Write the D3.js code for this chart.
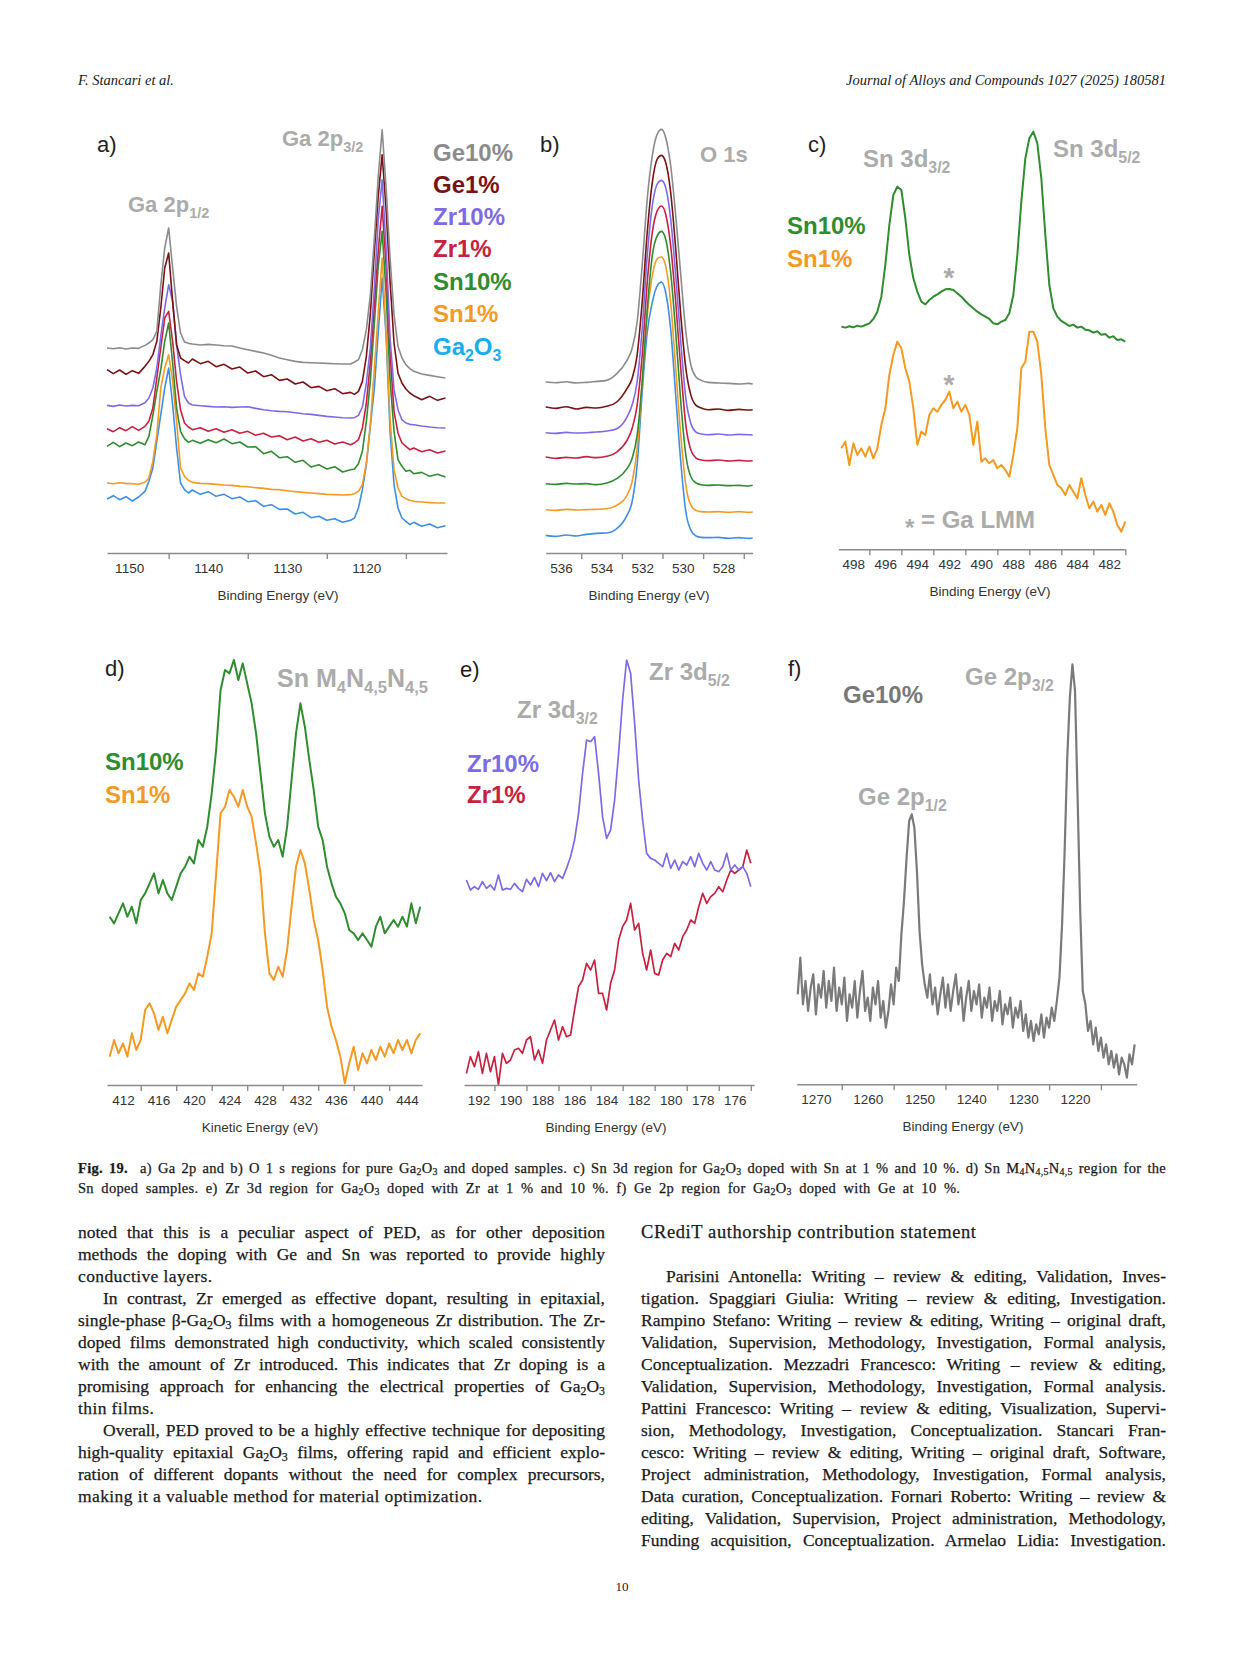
<!DOCTYPE html>
<html>
<head>
<meta charset="utf-8">
<script src="https://cdn.jsdelivr.net/npm/d3@7"></script>
<style>
  body { margin: 0; background: #fff; }
  #page { position: relative; width: 1241px; height: 1654px; overflow: hidden; background: #fff; }
  #page svg { position: absolute; left: 0; top: 0; }
  .ln { position: absolute; white-space: normal; color: #1a1a1a; font-family: "Liberation Serif", "Times New Roman", serif; -webkit-text-stroke: 0.25px #1a1a1a; }
  .ln sub { font-size: 68%; vertical-align: -0.22em; line-height: 0; }
</style>
</head>
<body>
<div id="page"></div>
<script>
// ---- data (intensities in arbitrary units) ----

// a) Ga 2p
const aEnergy = [1152.8, 1152, 1151.2, 1150.4, 1149.6, 1148.8, 1148, 1147.5, 1147, 1146.5, 1146, 1145.5, 1145, 1144.5, 1144, 1143.5, 1143, 1142.5, 1142,
  1141, 1140, 1139, 1138, 1137, 1136, 1135, 1134, 1133, 1132, 1131, 1130, 1129, 1128, 1127, 1126, 1125, 1124, 1123, 1122,
  1121.5, 1121, 1120.5, 1120, 1119.5, 1119, 1118.5, 1118, 1117.5, 1117, 1116.5, 1116, 1115.5, 1115, 1114.5, 1114, 1113, 1112, 1111, 1110];
const aGe10 = [61.5, 61.3, 61.6, 61.2, 61.5, 61.4, 62.3, 63.0, 64.0, 66.5, 80.3, 91.5, 97.5, 85.5, 74, 66, 63.3, 62.9, 62.7,
  62.4, 62.6, 62.4, 62.2, 62.1, 61.5, 61.0, 60.5, 60.0, 59.3, 58.5, 58.0, 57.5, 57.2, 57.1, 57.0, 56.9, 56.8, 56.7, 56.7,
  57.3, 58.0, 61.0, 67.0, 77.2, 94.0, 112.8, 127.0, 109.5, 88.5, 71.5, 62.0, 58.5, 56.5, 55.3, 54.5, 53.7, 53.3, 52.9, 52.5];
const aGe1 = [55.0, 53.8, 54.9, 53.6, 54.7, 53.9, 56.0, 57.5, 59.5, 63.5, 73.5, 85.5, 90, 75.5, 62.5, 58.5, 57.7, 57.0, 58.2,
  56.8, 57.5, 55.9, 56.6, 55.2, 55.8, 54.0, 54.6, 52.9, 53.5, 51.8, 52.2, 50.7, 51.3, 49.6, 50.0, 48.7, 49.3, 47.8, 48.2,
  47.6, 48.5, 51.5, 59.0, 71.5, 90.0, 107.0, 119.5, 103.0, 81.5, 63.0, 54.0, 51.0, 49.2, 48.0, 47.2, 46.0, 47.0, 45.8, 46.5];
const aZr10 = [44.3, 44.0, 44.4, 44.1, 44.3, 44.2, 45.1, 46.5, 49.5, 55.5, 65, 73.5, 80.5, 75.5, 62.5, 53.5, 47, 45, 44.4,
  44.2, 44.0, 43.8, 43.9, 43.7, 43.8, 43.9, 43.4, 43.0, 42.7, 42.5, 42.4, 42.1, 41.8, 41.6, 41.3, 41.0, 40.8, 40.6, 40.5,
  40.6, 41.3, 43.8, 51.0, 61.5, 79.0, 100.0, 112.0, 91.5, 64.5, 49.0, 43.0, 40.0, 39.0, 38.6, 38.5, 38.1, 37.8, 37.6, 37.5];
const aZr1 = [37.3, 36.4, 37.6, 36.7, 37.9, 36.8, 38.0, 39.5, 43.5, 52.5, 61.5, 70.5, 72.5, 63.5, 51.5, 43, 39, 37.8, 37.0,
  37.6, 36.5, 37.3, 36.2, 37.0, 35.9, 36.5, 35.3, 35.9, 34.8, 35.2, 34.0, 34.8, 33.6, 34.3, 33.2, 33.8, 32.7, 33.3, 32.5,
  33.0, 34.0, 37.5, 45.0, 57.0, 74.0, 90.5, 104.0, 86.0, 60.0, 42.5, 36.0, 33.0, 32.0, 31.0, 31.5, 30.4, 31.0, 30.0, 30.6];
const aSn10 = [32.0, 33.2, 31.9, 33.0, 32.2, 33.3, 32.5, 35.0, 41.3, 48.5, 55, 63.5, 69, 57, 43.5, 36.5, 34.3, 33.2, 33.8,
  32.9, 34.0, 33.1, 34.2, 32.8, 33.3, 31.8, 31.9, 29.8, 30.5, 28.6, 28.9, 27.2, 27.8, 25.8, 26.5, 25.2, 25.9, 24.3, 25.0,
  25.2, 26.8, 30.5, 39.5, 51.5, 68.5, 86.0, 96.5, 78.0, 52.0, 36.5, 28.0, 26.0, 24.5, 24.8, 23.8, 24.2, 23.0, 23.6, 22.8];
const aSn1 = [21.0, 20.8, 21.1, 20.9, 20.8, 20.6, 21.2, 22.5, 27.5, 35.5, 49.5, 55.5, 59.5, 51.5, 39.5, 25.5, 23, 21.8, 21.2,
  20.9, 20.8, 20.6, 20.4, 20.3, 20.0, 19.9, 19.6, 19.4, 19.1, 19.0, 18.7, 18.4, 18.2, 18.0, 17.8, 17.6, 17.5, 17.4, 17.5,
  17.8, 18.5, 20.5, 27.0, 38.5, 55.0, 72.0, 88.5, 66.0, 40.0, 25.0, 19.5, 17.0, 16.3, 15.8, 15.5, 15.3, 15.1, 15.0, 15.0];
const aGa2O3 = [16.2, 17.2, 16.0, 16.9, 15.6, 16.8, 18.5, 21.5, 25.5, 33.5, 41.5, 49.5, 55.5, 44.5, 31.5, 21, 19, 18.0, 18.9,
  17.6, 18.4, 17.0, 17.6, 16.3, 16.8, 15.4, 15.7, 14.0, 14.5, 13.1, 13.2, 11.7, 12.2, 10.6, 11.0, 9.8, 10.3, 9.2, 9.8,
  10.5, 13.5, 19.0, 26.5, 38.0, 49.0, 66.0, 82.5, 65.0, 36.5, 20.5, 13.5, 10.5, 9.5, 8.5, 9.2, 8.0, 8.7, 7.6, 8.2];
const aTicks = [1150, 1140, 1130, 1120];
const aMinor = [1145, 1135, 1125, 1115];

// b) O 1s
const bEnergy = [536.75, 536.25, 535.75, 535.25, 534.75, 534.25, 533.75, 533.25, 532.75, 532.5, 532.25, 532, 531.75, 531.5, 531.25,
  531.05, 530.85, 530.6, 530.35, 530.1, 529.85, 529.6, 529.35, 529.1, 528.75, 528.25, 527.75, 527.25, 526.75, 526.56];
const bGe10 = [51.3, 51.1, 51.4, 51.0, 51.2, 51.5, 51.8, 53.8, 57.8, 61.3, 69.3, 86.3, 106.3, 119.3, 125.8, 127.1, 124.8, 116.3, 101.3, 83.3, 66.3, 56.3, 52.8, 51.8, 51.2, 51.0, 50.9, 50.7, 50.9, 50.7];
const bGe1 = [43.8, 43.4, 43.9, 43.2, 43.7, 43.5, 44.0, 45.3, 49.3, 52.3, 59.3, 75.3, 96.3, 111.3, 118.3, 119.3, 117.3, 108.3, 91.3, 71.3, 55.3, 47.3, 44.3, 43.5, 43.0, 43.2, 42.8, 43.1, 42.9, 43.0];
const bZr10 = [36.1, 35.9, 36.2, 36.0, 36.1, 36.3, 36.6, 37.3, 40.8, 44.3, 51.3, 67.3, 89.3, 104.3, 110.8, 111.8, 109.8, 100.3, 83.3, 63.3, 46.3, 38.8, 36.3, 35.7, 35.5, 35.7, 35.4, 35.6, 35.5, 35.4];
const bZr1 = [28.8, 28.4, 28.7, 28.5, 28.9, 28.6, 29.0, 30.3, 33.8, 37.3, 44.3, 59.3, 81.3, 96.3, 102.8, 104.1, 101.8, 92.3, 75.3, 55.3, 38.3, 30.8, 28.5, 27.9, 27.7, 27.9, 27.6, 27.8, 27.6, 27.7];
const bSn10 = [20.8, 20.6, 20.9, 20.7, 20.8, 20.5, 21.0, 22.3, 25.3, 28.3, 35.3, 51.3, 73.3, 89.3, 95.3, 96.5, 94.3, 84.3, 66.3, 45.3, 29.3, 22.8, 21.0, 20.5, 20.3, 20.4, 20.2, 20.3, 20.1, 20.3];
const bSn1 = [13.0, 12.8, 13.1, 12.9, 13.0, 13.1, 13.3, 14.3, 17.3, 21.3, 31.3, 51.3, 71.3, 83.3, 88.3, 88.8, 86.3, 75.3, 55.3, 35.3, 20.3, 14.3, 12.8, 12.4, 12.3, 12.4, 12.2, 12.4, 12.2, 12.3];
const bGa2O3 = [5.3, 5.0, 5.4, 5.1, 5.6, 5.9, 6.0, 7.3, 11.3, 15.3, 26.3, 48.3, 66.3, 75.3, 80.3, 81.3, 78.3, 67.3, 47.3, 27.3, 12.3, 6.8, 5.1, 4.7, 4.6, 4.7, 4.4, 4.6, 4.4, 4.5];
const bTicks = [536, 534, 532, 530, 528];
const bMinor = [535, 533, 531, 529, 527];

// c) Sn 3d, sampled every 0.25 eV from 498.75 eV down
const cStart = 498.75, cStep = -0.25;
const cSn10 = [66.8, 66.5, 66.9, 66.6, 67.1, 66.8, 67.3, 67.8, 69.1, 71.3, 75.8, 85.3, 97.3, 106.3, 108.8, 107.8, 99.3, 88.3, 81.3, 77.3,
  74.3, 73.5, 74.8, 75.8, 76.5, 77.3, 78.0, 78.1, 77.8, 76.8, 75.8, 74.5, 73.3, 72.3, 71.3, 70.5, 69.8, 69.1, 67.8, 67.5,
  68.3, 68.8, 70.8, 76.3, 88.3, 104.3, 117.3, 123.3, 125.3, 121.8, 111.3, 94.3, 79.3, 72.3, 69.8, 68.5, 67.8, 67.0, 67.4, 66.5,
  66.8, 65.9, 65.7, 65.0, 65.4, 64.4, 64.6, 63.5, 63.9, 62.8, 63.0, 62.3];
const cSn1 = [30.3, 32.3, 25.3, 31.8, 28.3, 30.3, 27.8, 30.8, 27.3, 30.3, 37.3, 42.3, 52.3, 58.3, 62.3, 60.3, 54.3, 50.3, 42.3, 31.3,
  35.3, 34.3, 40.3, 42.3, 41.3, 43.3, 44.8, 47.3, 42.3, 44.3, 41.3, 43.3, 40.3, 31.3, 38.3, 26.3, 27.3, 25.8, 26.8, 24.3,
  25.3, 23.8, 21.8, 28.3, 36.3, 54.3, 56.3, 65.3, 65.3, 62.3, 52.3, 36.3, 25.3, 22.3, 19.3, 18.3, 16.3, 19.3, 17.3, 15.3,
  21.3, 16.3, 12.3, 14.3, 11.3, 13.3, 10.3, 13.8, 11.3, 7.3, 5.3, 8.3];
const cTicks = [498, 496, 494, 492, 490, 488, 486, 484, 482];
const cMinor = [497, 495, 493, 491, 489, 487, 485, 483, 481];

// d) Sn M4N4,5N4,5, kinetic energy sampled every 0.5 eV from 410.5 eV
const dStart = 410.5, dStep = 0.5;
const dSn10 = [50.5, 48.5, 51.5, 54.5, 50.5, 53.5, 48.5, 55.5, 57.5, 60.5, 63.5, 57.5, 61.5, 57.5, 55.5, 59.5, 63.5, 65.5, 68.5, 66.5,
  73.5, 71.5, 77.5, 87.5, 100.5, 118.5, 124.5, 123.5, 127.5, 121.5, 126.5, 120.5, 114.5, 105.5, 93.5, 81.5, 74.5, 71.5, 73.5, 68.5,
  77.5, 91.5, 105.5, 114.5, 107.5, 97.5, 88.5, 77.5, 73.5, 65.5, 60.5, 56.5, 54.5, 51.5, 46.5, 45.5, 43.5, 45.5, 43.5, 41.5,
  47.5, 50.5, 45.5, 47.5, 49.5, 47.5, 50.5, 47.5, 54.5, 48.5, 53.5];
const dSn1 = [8.5, 13.5, 9.5, 12.5, 8.5, 15.5, 10.5, 13.5, 22.5, 24.5, 21.5, 16.5, 20.5, 15.5, 19.5, 23.5, 25.5, 27.5, 30.5, 28.5,
  33.5, 32.5, 38.5, 45.5, 63.5, 81.5, 83.5, 88.5, 86.5, 83.5, 88.5, 83.5, 80.5, 72.5, 63.5, 45.5, 33.5, 31.5, 35.5, 32.5,
  40.5, 53.5, 65.5, 70.5, 66.5, 58.5, 49.5, 43.5, 34.5, 23.5, 17.5, 13.5, 8.5, 0.5, 6.5, 11.5, 4.5, 9.5, 6.5, 10.5,
  7.5, 11.5, 8.5, 12.5, 9.5, 13.5, 10.5, 13.5, 9.5, 13.5, 15.5];
const dTicks = [412, 416, 420, 424, 428, 432, 436, 440, 444];
const dMinor = [414, 418, 422, 426, 430, 434, 438, 442];

// e) Zr 3d, sampled every 0.25 eV from 192.75 eV down
const eStart = 192.75, eStep = -0.25;
const eZr10 = [61.5, 58.5, 59.5, 58.7, 61.0, 59.0, 60.0, 58.5, 63.0, 58.5, 59.0, 58.7, 60.5, 59.0, 58.0, 61.7, 60.0, 62.3, 59.5, 63.5,
  61.3, 63.7, 61.0, 63.0, 62.0, 65.0, 68.5, 73.5, 81.5, 93.5, 103.5, 103.0, 104.5, 93.5, 80.5, 74.0, 76.5, 85.5, 99.5, 115.5,
  127.5, 123.5, 108.5, 91.5, 79.5, 69.5, 68.0, 67.5, 66.5, 65.5, 69.5, 65.0, 67.5, 64.5, 67.0, 66.0, 68.5, 65.5, 69.5, 66.5,
  64.5, 67.0, 64.5, 64.0, 65.5, 69.5, 64.5, 66.0, 64.5, 65.5, 63.5, 59.5];
const eZr1 = [3.5, 8.5, 5.5, 10.0, 3.5, 9.5, 4.0, 8.5, 0.0, 9.5, 6.5, 7.5, 10.5, 11.0, 9.5, 13.5, 14.5, 7.5, 10.5, 6.5,
  13.5, 16.5, 19.5, 13.5, 17.5, 14.5, 15.0, 22.5, 29.5, 31.5, 36.5, 34.5, 37.5, 27.5, 27.5, 22.5, 30.5, 34.5, 43.5, 47.5,
  49.5, 54.5, 46.5, 48.5, 39.5, 34.5, 40.5, 33.5, 33.0, 37.5, 39.5, 38.5, 42.5, 40.5, 44.5, 46.5, 49.5, 48.5, 53.5, 57.5,
  54.5, 56.5, 57.5, 59.5, 58.0, 61.5, 64.5, 63.5, 64.5, 65.5, 70.5, 66.5];
const eTicks = [192, 190, 188, 186, 184, 182, 180, 178, 176];
const eMinor = [191, 189, 187, 185, 183, 181, 179, 177, 175];

// f) Ge 2p, sampled every 0.5 eV from 1273.5 eV down
const fStart = 1273.5, fStep = -0.5;
const fGe10 = [27, 38, 24, 31, 22, 29, 33, 21, 30, 26, 34, 23, 31, 25, 35, 22, 29, 24, 32, 19,
  27, 23, 31, 20, 28, 34, 22, 26, 19, 29, 24, 31, 20, 25, 17, 22,
  30, 24, 35, 31, 45, 55, 68, 79, 81, 77, 64, 46, 36, 30,
  26, 33, 24, 29, 21, 27, 32, 23, 30, 22, 28, 33, 24, 29, 19, 26, 31, 22, 28, 24,
  30, 20, 26, 23, 29, 19, 25, 22, 28, 18, 24, 21, 26, 17, 23, 20, 25, 16, 21, 14,
  19, 13, 18, 15, 21, 14, 20, 17, 23, 19, 25,
  32, 48, 70, 98, 116, 126, 118, 86, 52, 28, 24, 16, 19, 12, 17, 10, 14, 8, 12, 6,
  10, 5, 9, 3, 8, 6, 2, 9, 6, 12];
const fTicks = [1270, 1260, 1250, 1240, 1230, 1220];
const fMinor = [1265, 1255, 1245, 1235, 1225, 1215];

// ---- styling ----
const SANS = '"Liberation Sans", Arial, Helvetica, sans-serif';
const SERIF = '"Liberation Serif", "Times New Roman", serif';
const C = {
  ge10: '#8b8b8b', ge1: '#7a1113', zr10: '#7d6be6', zr1: '#c8213f',
  sn10: '#2f8c2f', sn1: '#f39a22', ga: '#3d8fe6', gaTxt: '#19adef',
  peak: '#ababab', axis: '#8c8c8c', tick: '#333333', f: '#7a7a7a'
};

const page = d3.select('#page');
const svg = page.append('svg').attr('width', 1241).attr('height', 1654);

function grid(start, step, n) {
  return d3.range(n).map(i => +(start + i * step).toFixed(3));
}

function drawPanel(p) {
  const x = d3.scaleLinear().domain(p.domain).range([p.x0, p.x1]);
  const y = d3.scaleLinear().domain([0, 130]).range([p.axisY, p.axisY - 433.3]);
  const g = svg.append('g');
  const line = d3.line().x(d => x(d[0])).y(d => y(d[1])).curve(p.curve || d3.curveLinear);

  p.series.forEach(s => {
    g.append('path')
      .datum(d3.zip(p.energy, s.values))
      .attr('d', line)
      .attr('fill', 'none')
      .attr('stroke', s.color)
      .attr('stroke-width', p.lw)
      .attr('stroke-linejoin', 'round');
  });

  const ax = g.append('g')
    .attr('transform', `translate(0,${p.axisY})`)
    .call(d3.axisBottom(x).tickValues(p.ticks).tickSize(0).tickSizeOuter(0).tickPadding(10).tickFormat(d3.format('d')));
  ax.select('.domain').attr('stroke', C.axis).attr('stroke-width', 1.6);
  ax.selectAll('text').attr('font-family', SANS).attr('font-size', 13.5).attr('fill', C.tick);

  const mn = g.append('g')
    .attr('transform', `translate(0,${p.axisY})`)
    .call(d3.axisBottom(x).tickValues(p.minor).tickSize(6).tickSizeOuter(0).tickFormat(''));
  mn.select('.domain').remove();
  mn.selectAll('line').attr('stroke', C.axis).attr('stroke-width', 1.4);

  g.append('text')
    .attr('x', p.titleX).attr('y', p.axisY + 47)
    .attr('text-anchor', 'middle')
    .attr('font-family', SANS).attr('font-size', 13.5).attr('fill', C.tick)
    .text(p.title);
}

// label with optional subscripts: parts = ['Ga 2p', {sub: '3/2'}]
function label(x, y, parts, size, color, opts) {
  opts = opts || {};
  const t = svg.append('text').attr('x', x).attr('y', y)
    .attr('font-family', SANS).attr('font-size', size)
    .attr('font-weight', opts.weight || 'bold').attr('fill', color)
    .attr('text-anchor', opts.anchor || 'start');
  let low = false;
  parts.forEach(p => {
    const isSub = typeof p !== 'string';
    const ts = t.append('tspan').text(isSub ? p.sub : p);
    const shift = size * 0.25;
    if (isSub && !low) ts.attr('dy', shift);
    if (!isSub && low) ts.attr('dy', -shift);
    if (isSub) ts.attr('font-size', size * 0.66);
    low = isSub;
  });
  return t;
}

// ---- panels ----
drawPanel({
  domain: [1152.8, 1109.8], x0: 107, x1: 447, axisY: 553, lw: 1.6,
  ticks: aTicks, minor: aMinor, titleX: 278, title: 'Binding Energy (eV)', energy: aEnergy,
  series: [
    { values: aGa2O3, color: C.ga }, { values: aSn1, color: C.sn1 }, { values: aSn10, color: C.sn10 },
    { values: aZr1, color: C.zr1 }, { values: aZr10, color: C.zr10 }, { values: aGe1, color: C.ge1 },
    { values: aGe10, color: C.ge10 }
  ]
});
drawPanel({
  domain: [536.75, 526.56], x0: 545.7, x1: 752.7, axisY: 553, lw: 1.6, curve: d3.curveMonotoneX,
  ticks: bTicks, minor: bMinor, titleX: 649, title: 'Binding Energy (eV)', energy: bEnergy,
  series: [
    { values: bGa2O3, color: C.ga }, { values: bSn1, color: C.sn1 }, { values: bSn10, color: C.sn10 },
    { values: bZr1, color: C.zr1 }, { values: bZr10, color: C.zr10 }, { values: bGe1, color: C.ge1 },
    { values: bGe10, color: C.ge10 }
  ]
});
drawPanel({
  domain: [498.94, 481.02], x0: 838.3, x1: 1125, axisY: 549.3, lw: 2,
  ticks: cTicks, minor: cMinor, titleX: 990, title: 'Binding Energy (eV)',
  energy: grid(cStart, cStep, cSn10.length),
  series: [{ values: cSn10, color: C.sn10 }, { values: cSn1, color: C.sn1 }]
});
drawPanel({
  domain: [410.2, 445.7], x0: 107, x1: 422, axisY: 1085, lw: 2,
  ticks: dTicks, minor: dMinor, titleX: 260, title: 'Kinetic Energy (eV)',
  energy: grid(dStart, dStep, dSn10.length),
  series: [{ values: dSn10, color: C.sn10 }, { values: dSn1, color: C.sn1 }]
});
drawPanel({
  domain: [192.9, 174.8], x0: 464, x1: 754, axisY: 1085, lw: 1.7,
  ticks: eTicks, minor: eMinor, titleX: 606, title: 'Binding Energy (eV)',
  energy: grid(eStart, eStep, eZr10.length),
  series: [{ values: eZr1, color: C.zr1 }, { values: eZr10, color: C.zr10 }]
});
drawPanel({
  domain: [1273.7, 1208.1], x0: 796.7, x1: 1136.7, axisY: 1084.3, lw: 2.2,
  ticks: fTicks, minor: fMinor, titleX: 963, title: 'Binding Energy (eV)',
  energy: grid(fStart, fStep, fGe10.length),
  series: [{ values: fGe10, color: C.f }]
});

// ---- panel letters ----
[['a)', 97, 152], ['b)', 540, 152], ['c)', 808, 152], ['d)', 105, 676], ['e)', 460, 677], ['f)', 788, 676]]
  .forEach(d => label(d[1], d[2], [d[0]], 22, '#1e1e1e', { weight: 'normal' }));

// ---- peak labels ----
label(282, 146, ['Ga 2p', { sub: '3/2' }], 22, C.peak);
label(128, 212, ['Ga 2p', { sub: '1/2' }], 22, C.peak);
label(700, 162, ['O 1s'], 22, C.peak);
label(863, 167, ['Sn 3d', { sub: '3/2' }], 24, C.peak);
label(1053, 157, ['Sn 3d', { sub: '5/2' }], 24, C.peak);
label(949, 287, ['*'], 28, C.peak, { anchor: 'middle' });
label(949, 394, ['*'], 28, C.peak, { anchor: 'middle' });
const lmm = svg.append('text').attr('x', 905).attr('y', 528)
  .attr('font-family', SANS).attr('font-size', 24).attr('font-weight', 'bold').attr('fill', C.peak);
lmm.append('tspan').attr('dy', 8).text('*');
lmm.append('tspan').attr('dy', -8).text(' = Ga LMM');
label(277, 687, ['Sn M', { sub: '4' }, 'N', { sub: '4,5' }, 'N', { sub: '4,5' }], 25, C.peak);
label(649, 680, ['Zr 3d', { sub: '5/2' }], 24, C.peak);
label(517, 718, ['Zr 3d', { sub: '3/2' }], 24, C.peak);
label(965, 685, ['Ge 2p', { sub: '3/2' }], 24, C.peak);
label(858, 805, ['Ge 2p', { sub: '1/2' }], 24, C.peak);

// ---- legends ----
const aLegend = [
  [['Ge10%'], C.ge10, 161], [['Ge1%'], C.ge1, 193], [['Zr10%'], C.zr10, 225], [['Zr1%'], C.zr1, 257],
  [['Sn10%'], C.sn10, 290], [['Sn1%'], C.sn1, 322], [['Ga', { sub: '2' }, 'O', { sub: '3' }], C.gaTxt, 355]
];
aLegend.forEach(d => label(433, d[2], d[0], 24, d[1]));
label(787, 234, ['Sn10%'], 24, C.sn10);
label(787, 267, ['Sn1%'], 24, C.sn1);
label(105, 770, ['Sn10%'], 24, C.sn10);
label(105, 803, ['Sn1%'], 24, C.sn1);
label(467, 772, ['Zr10%'], 24, C.zr10);
label(467, 803, ['Zr1%'], 24, C.zr1);
label(843, 703, ['Ge10%'], 24, '#787878');

// ---- page text ----
svg.append('text').attr('x', 78).attr('y', 85).attr('font-family', SERIF).attr('font-style', 'italic')
  .attr('font-size', 14.5).attr('fill', '#1a1a1a').text('F. Stancari et al.');
svg.append('text').attr('x', 1166).attr('y', 85).attr('text-anchor', 'end').attr('font-family', SERIF)
  .attr('font-style', 'italic').attr('font-size', 14.5).attr('fill', '#1a1a1a')
  .text('Journal of Alloys and Compounds 1027 (2025) 180581');
svg.append('text').attr('x', 622).attr('y', 1591).attr('text-anchor', 'middle').attr('font-family', SERIF)
  .attr('font-size', 13).attr('fill', '#1a1a1a').text('10');

function textLines(lines, o) {
  const half = (o.lh - 1.107 * o.fs) / 2;
  lines.forEach((ln, i) => {
    const full = !ln.last;
    page.append('div').attr('class', 'ln')
      .style('left', o.x + 'px')
      .style('top', (o.base + i * o.lh - half - 0.891 * o.fs) + 'px')
      .style('width', o.w + 'px')
      .style('font-size', o.fs + 'px')
      .style('line-height', o.lh + 'px')
      .style('letter-spacing', (full ? (o.ls || 0) : (o.lsLast || o.ls || 0)) + 'px')
      .style('word-spacing', !full && o.wsLast ? o.wsLast + 'px' : 'normal')
      .style('text-align', full ? 'justify' : 'left')
      .style('text-align-last', full ? 'justify' : 'left')
      .style('text-indent', ln.indent ? '25px' : '0')
      .html(ln.t);
  });
}

const G = 'Ga<sub>2</sub>O<sub>3</sub>';
const captionLines = [
  { t: '<b>Fig. 19.</b>&nbsp;&nbsp;a) Ga 2p and b) O 1 s regions for pure ' + G + ' and doped samples. c) Sn 3d region for ' + G +
    ' doped with Sn at 1 % and 10 %. d) Sn M<sub>4</sub>N<sub>4,5</sub>N<sub>4,5</sub> region for the' },
  { t: 'Sn doped samples. e) Zr 3d region for ' + G + ' doped with Zr at 1 % and 10 %. f) Ge 2p region for ' + G + ' doped with Ge at 10 %.', last: true }
];
textLines(captionLines, { x: 78, w: 1088, base: 1173, lh: 20, fs: 14.5, ls: 0.3, wsLast: 3.5 });

const leftLines = [
  { t: 'noted that this is a peculiar aspect of PED, as for other deposition' },
  { t: 'methods the doping with Ge and Sn was reported to provide highly' },
  { t: 'conductive layers.', last: true },
  { t: 'In contrast, Zr emerged as effective dopant, resulting in epitaxial,', indent: true },
  { t: 'single-phase β-' + G + ' films with a homogeneous Zr distribution. The Zr-' },
  { t: 'doped films demonstrated high conductivity, which scaled consistently' },
  { t: 'with the amount of Zr introduced. This indicates that Zr doping is a' },
  { t: 'promising approach for enhancing the electrical properties of ' + G },
  { t: 'thin films.', last: true },
  { t: 'Overall, PED proved to be a highly effective technique for depositing', indent: true },
  { t: 'high-quality epitaxial ' + G + ' films, offering rapid and efficient explo-' },
  { t: 'ration of different dopants without the need for complex precursors,' },
  { t: 'making it a valuable method for material optimization.', last: true }
];
textLines(leftLines, { x: 78, w: 527, base: 1239, lh: 21.96, fs: 17.5, lsLast: 0.4 });

textLines([{ t: 'CRediT authorship contribution statement', last: true }],
  { x: 641, w: 525, base: 1239, lh: 21.96, fs: 18.5, lsLast: 0.6 });

const rightLines = [
  { t: 'Parisini Antonella: Writing – review &amp; editing, Validation, Inves-', indent: true },
  { t: 'tigation. Spaggiari Giulia: Writing – review &amp; editing, Investigation.' },
  { t: 'Rampino Stefano: Writing – review &amp; editing, Writing – original draft,' },
  { t: 'Validation, Supervision, Methodology, Investigation, Formal analysis,' },
  { t: 'Conceptualization. Mezzadri Francesco: Writing – review &amp; editing,' },
  { t: 'Validation, Supervision, Methodology, Investigation, Formal analysis.' },
  { t: 'Pattini Francesco: Writing – review &amp; editing, Visualization, Supervi-' },
  { t: 'sion, Methodology, Investigation, Conceptualization. Stancari Fran-' },
  { t: 'cesco: Writing – review &amp; editing, Writing – original draft, Software,' },
  { t: 'Project administration, Methodology, Investigation, Formal analysis,' },
  { t: 'Data curation, Conceptualization. Fornari Roberto: Writing – review &amp;' },
  { t: 'editing, Validation, Supervision, Project administration, Methodology,' },
  { t: 'Funding acquisition, Conceptualization. Armelao Lidia: Investigation.' }
];
textLines(rightLines, { x: 641, w: 525, base: 1239 + 2 * 21.96, lh: 21.96, fs: 17.5 });
</script>
</body>
</html>
